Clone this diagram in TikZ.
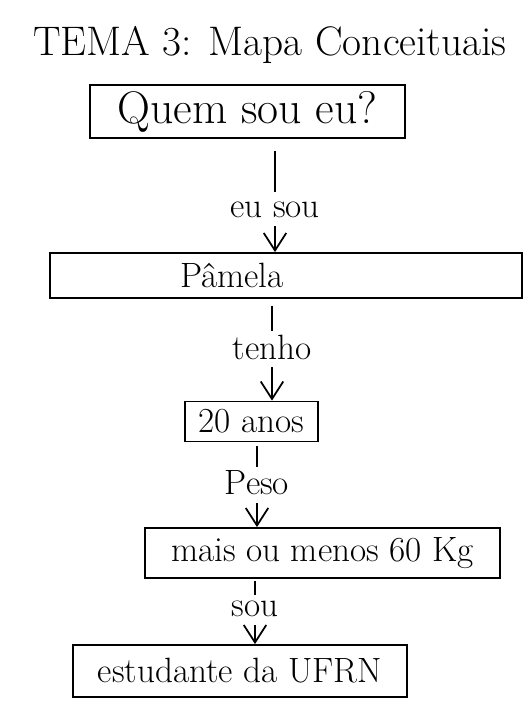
\documentclass[tikz,border=0pt]{standalone}
\usepackage{fontspec}
\usetikzlibrary{arrows.meta}

\begin{document}
\begin{tikzpicture}[
    caixa/.style={draw, line width=1pt, inner sep=0pt, font=\fontsize{20}{24}\selectfont},
    texto/.style={inner sep=0pt, font=\fontsize{20}{24}\selectfont},
    rotulo/.style={inner sep=1.5pt, font=\fontsize{20}{24}\selectfont},
    liga/.style={line width=1pt},
    seta/.style={line width=1pt, shorten <=0.1cm, -{Straight Barb[length=0.35cm,width=0.45cm]}}
  ]
    \useasboundingbox (0,0) rectangle (10.62,14.08);

    %titulo
    \node[font=\fontsize{23.5}{28}\selectfont] (titulo) at (5.4,13.18) {TEMA 3: Mapa Conceituais};

    %caixas
    \node[caixa, minimum width=6.3cm, minimum height=1.06cm, font=\fontsize{26}{30}\selectfont] (quem) at (4.95,11.85) {Quem sou eu?};
    \node[caixa, minimum width=9.44cm, minimum height=0.9cm] (pamela) at (5.72,8.57) {};
    \node[texto] (pamelatxt) at (4.64,8.57) {Pâmela};
    \node[caixa, minimum width=2.66cm, minimum height=0.8cm] (idade) at (5.03,5.65) {20 anos};
    \node[caixa, minimum width=7.1cm, minimum height=1.0cm] (peso) at (6.45,3.02) {mais ou menos 60 Kg};
    \node[caixa, minimum width=6.68cm, minimum height=1.04cm] (ufrn) at (4.8,0.66) {estudante da UFRN};

    %ligacoes
    \node[rotulo] (eusou) at (5.5,9.88) {eu sou};
    \node[rotulo] (tenho) at (5.44,7.14) {tenho};
    \node[rotulo] (pesolbl) at (5.14,4.42) {Peso};
    \node[rotulo] (sou) at (5.1,1.9) {sou};

    \draw[liga, shorten <=0.24cm, shorten >=0.15cm] (quem.south -| eusou) -- (eusou);
    \draw[seta] (eusou) -- (eusou |- pamela.north);
    \draw[liga, shorten <=0.14cm, shorten >=0.02cm] (pamela.south -| tenho) -- (tenho);
    \draw[seta] (tenho) -- (tenho |- idade.north);
    \draw[liga, shorten <=0.08cm, shorten >=0.02cm] (idade.south -| pesolbl) -- (pesolbl);
    \draw[seta] (pesolbl) -- (pesolbl |- peso.north);
    \draw[liga, shorten <=0.04cm, shorten >=0.06cm] (peso.south -| sou) -- (sou);
    \draw[seta] (sou) -- (sou |- ufrn.north);

\end{tikzpicture}
\end{document}
